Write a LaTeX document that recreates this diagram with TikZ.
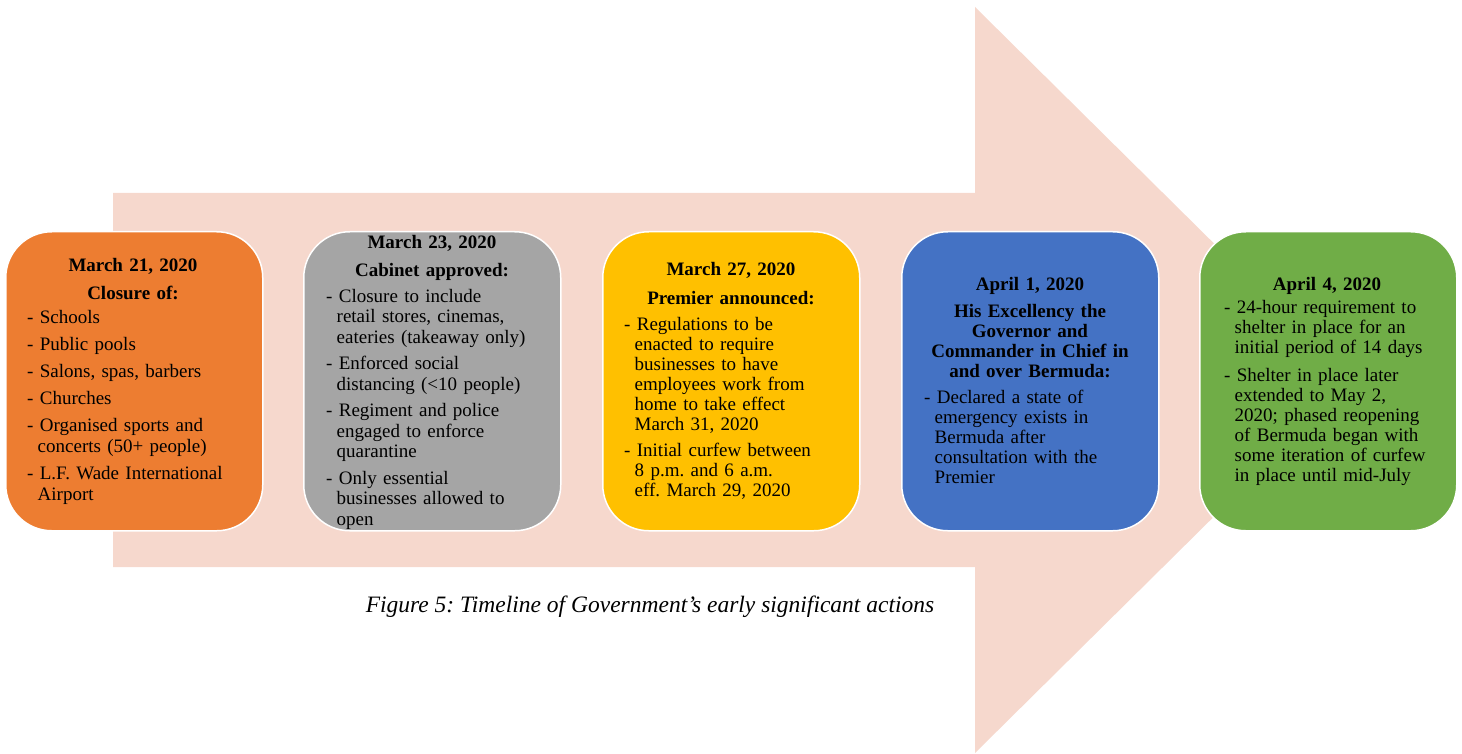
\documentclass[tikz,border=0pt]{standalone}
\usepackage{fontspec}
\setmainfont{Liberation Serif}
\frenchspacing
\definecolor{arrowfill}{HTML}{F6D8CD}
\definecolor{cOrange}{HTML}{ED7D31}
\definecolor{cGray}{HTML}{A5A5A5}
\definecolor{cYellow}{HTML}{FFC000}
\definecolor{cBlue}{HTML}{4472C4}
\definecolor{cGreen}{HTML}{70AD47}
\newcommand\ind{\hspace*{10.5pt}}
\tikzset{
  card/.style={rectangle, rounded corners=46pt, draw=white, line width=1.5pt,
    minimum width=257pt, minimum height=299pt, inner sep=0pt, anchor=north west},
  headtxt/.style={inner sep=0pt, anchor=north, align=center, text width=256pt,
    font=\fontsize{19}{20.5}\selectfont\bfseries},
  bodytxt/.style={inner sep=0pt, anchor=north west, align=left, text width=250pt,
    font=\fontsize{19}{20.5}\selectfont},
}
\begin{document}
\begin{tikzpicture}[x=1pt,y=-1pt]
\useasboundingbox (0,0) rectangle (1462,754);
% big arrow
\fill[arrowfill] (113,193) -- (975,193) -- (975,7) -- (1352,380) -- (975,753) -- (975,567) -- (113,567) -- cycle;
% cards
\node[card, fill=cOrange] (c1) at (5,231) {};
\node[card, fill=cGray]   (c2) at (303,231) {};
\node[card, fill=cYellow] (c3) at (602,231) {};
\node[card, fill=cBlue]   (c4) at (901,231) {};
\node[card, fill=cGreen]  (c5) at (1199,231) {};
% card 1
\node[headtxt, font=\fontsize{19}{21}\selectfont\bfseries] (h1) at (133,256.3) {\strut March 21, 2020\\[7pt]Closure of:};
\node[bodytxt, font=\fontsize{19}{21}\selectfont] (b1) at (27,308.3) {\strut - Schools\\[6pt]- Public pools\\[6pt]- Salons, spas, barbers\\[6pt]- Churches\\[6pt]- Organised sports and\\\ind concerts (50+ people)\\[6pt]- L.F. Wade International\\\ind Airport};
% card 2
\node[headtxt, font=\fontsize{19}{21}\selectfont\bfseries] (h2) at (432,233.3) {\strut March 23, 2020\\[7pt]Cabinet approved:};
\node[bodytxt] (b2) at (326,287.6) {\strut - Closure to include\\\ind retail stores, cinemas,\\\ind eateries (takeaway only)\\[6pt]- Enforced social\\\ind distancing (<10 people)\\[6pt]- Regiment and police\\\ind engaged to enforce\\\ind quarantine\\[6pt]- Only essential\\\ind businesses allowed to\\\ind open};
% card 3
\node[headtxt, font=\fontsize{19}{21}\selectfont\bfseries] (h3) at (731,260.3) {\strut March 27, 2020\\[8pt]Premier announced:};
\node[bodytxt, font=\fontsize{19}{20}\selectfont] (b3) at (624,316) {\strut - Regulations to be\\\ind enacted to require\\\ind businesses to have\\\ind employees work from\\\ind home to take effect\\\ind March 31, 2020\\[6pt]- Initial curfew between\\\ind 8 p.m. and 6 a.m.\\\ind eff. March 29, 2020};
% card 4
\node[headtxt, font=\fontsize{19}{20}\selectfont\bfseries] (h4) at (1030,276) {\strut April 1, 2020\\[7pt]His Excellency the\\Governor and\\Commander in Chief in\\and over Bermuda:};
\node[bodytxt, font=\fontsize{19}{20}\selectfont] (b4) at (924,389) {\strut - Declared a state of\\\ind emergency exists in\\\ind Bermuda after\\\ind consultation with the\\\ind Premier};
% card 5
\node[headtxt, font=\fontsize{19}{20.5}\selectfont\bfseries] (h5) at (1327,275.6) {\strut April 4, 2020};
\node[bodytxt, font=\fontsize{19}{20}\selectfont] (b5) at (1224,299) {\strut - 24-hour requirement to\\\ind shelter in place for an\\\ind initial period of 14 days\\[8pt]- Shelter in place later\\\ind extended to May 2,\\\ind 2020; phased reopening\\\ind of Bermuda began with\\\ind some iteration of curfew\\\ind in place until mid-July};
% caption
\node[inner sep=0pt, anchor=base, font=\fontsize{23.5}{25}\selectfont\itshape] (cap) at (650,612) {Figure 5: Timeline of Government’s early significant actions};
\end{tikzpicture}
\end{document}
